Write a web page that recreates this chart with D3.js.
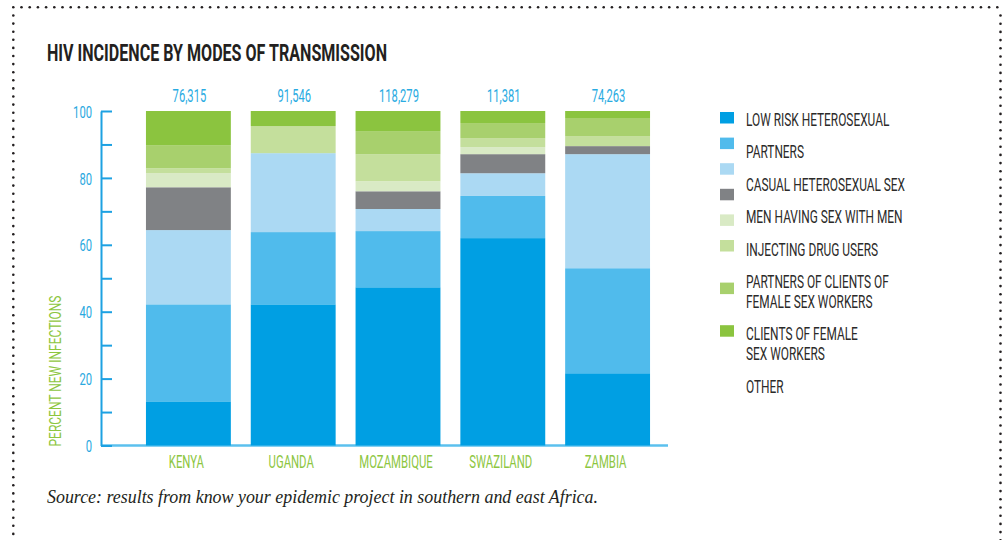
<!DOCTYPE html>
<html>
<head>
<meta charset="utf-8">
<script src="https://cdn.jsdelivr.net/npm/d3@7"></script>
<style>
  html, body { margin: 0; padding: 0; background: #fff; }
  svg { display: block; font-family: Roboto, "Open Sans", sans-serif; }
</style>
</head>
<body>
<div id="chart"></div>
<script>
"use strict";

// data (percent of new infections)
var countries = ["KENYA", "UGANDA", "MOZAMBIQUE", "SWAZILAND", "ZAMBIA"];
var totals = ["76,315", "91,546", "118,279", "11,381", "74,263"];

var lowRisk   = [13.2, 42.2, 47.3, 62.0, 21.6];
var partners  = [29.0, 21.6, 16.8, 12.6, 31.4];
var casual    = [22.2, 23.6,  6.6,  6.8, 34.1];
var msm       = [12.8,  0.0,  5.3,  5.7,  2.4];
var idu       = [ 4.2,  0.0,  3.0,  2.1,  0.0];
var pcfsw     = [ 1.5,  8.1,  8.1,  2.7,  3.0];
var cfsw      = [ 6.9,  0.0,  6.9,  4.5,  5.4];
var other     = [10.2,  4.5,  6.0,  3.6,  2.1];

var seriesKeys = ["lowRisk", "partners", "casual", "msm", "idu", "pcfsw", "cfsw", "other"];
var seriesVals = [lowRisk, partners, casual, msm, idu, pcfsw, cfsw, other];
var colors = ["#009fe3", "#50bbec", "#abd9f3", "#808285", "#d9eac5", "#c4df9c", "#a8d06d", "#8bc43f"];

var legendLabels = [
    ["LOW RISK HETEROSEXUAL"],
    ["PARTNERS"],
    ["CASUAL HETEROSEXUAL SEX"],
    ["MEN HAVING SEX WITH MEN"],
    ["INJECTING DRUG USERS"],
    ["PARTNERS OF CLIENTS OF", "FEMALE SEX WORKERS"],
    ["CLIENTS OF FEMALE", "SEX WORKERS"],
    ["OTHER"]
];

var yTicks = d3.range(0, 101, 10);

// build rows for d3.stack
var rows = countries.map(function(c, i) {
    var r = {country: c};
    seriesKeys.forEach(function(k, j) { r[k] = seriesVals[j][i]; });
    return r;
});

var W = 1002, H = 540;
var blue = "#1da1e2", green = "#8dc63f", ink = "#2b2a29";

var svg = d3.select("#chart").append("svg")
    .attr("width", W).attr("height", H);

// squeeze text horizontally to mimic the condensed face
function squeeze(sel, k) {
    sel.each(function() {
        var w = this.getComputedTextLength();
        d3.select(this).attr("textLength", w * k).attr("lengthAdjust", "spacingAndGlyphs");
    });
}

// dotted frame
var dots = svg.append("g").attr("fill", "#231f20");
dots.selectAll(".t").data(d3.range(13.3, 1001, 8.2)).enter().append("circle")
    .attr("cx", d => d).attr("cy", 7.3).attr("r", 1.3);
dots.selectAll(".l").data(d3.range(15.5, 541, 8.1)).enter().append("circle")
    .attr("cx", 13.3).attr("cy", d => d).attr("r", 1.3);
dots.selectAll(".r").data(d3.range(15.5, 541, 8.2)).enter().append("circle")
    .attr("cx", 1000.5).attr("cy", d => d).attr("r", 1.3);

// title
svg.append("text")
    .attr("x", 47).attr("y", 61)
    .attr("font-size", 24.5).attr("font-weight", 700).attr("fill", "#231f20")
    .attr("textLength", 340).attr("lengthAdjust", "spacingAndGlyphs")
    .text("HIV INCIDENCE BY MODES OF TRANSMISSION");

var x = d3.scaleBand().domain(countries).range([136, 660]).paddingInner(0.19).paddingOuter(0.095);
var y = d3.scaleLinear().domain([0, 100]).range([445.5, 111]);

// x baseline
svg.append("line")
    .attr("x1", 101).attr("x2", 668)
    .attr("y1", y(0)).attr("y2", y(0))
    .attr("stroke", "#5bc0ee").attr("stroke-width", 2.5);

// stacked bars
var stack = d3.stack().keys(seriesKeys)(rows);
svg.append("g").selectAll("g").data(stack).enter().append("g")
    .attr("fill", (d, i) => colors[i])
    .selectAll("rect").data(d => d).enter().append("rect")
    .attr("x", d => x(d.data.country))
    .attr("width", x.bandwidth())
    .attr("y", d => y(d[1]))
    .attr("height", d => y(d[0]) - y(d[1]));

// y axis
var axis = svg.append("g")
    .attr("transform", "translate(101,0)")
    .call(d3.axisLeft(y).tickValues(yTicks).tickSizeInner(-11).tickSizeOuter(0).tickPadding(9)
        .tickFormat(d => d % 20 === 0 ? d : ""));
axis.attr("font-family", null);
axis.select(".domain").attr("stroke", blue).attr("stroke-width", 2);
axis.selectAll(".tick line").attr("stroke", blue).attr("stroke-width", 2);
axis.selectAll(".tick text")
    .attr("fill", "#29a8e0").attr("font-size", 17).attr("dy", "0.36em")
    .call(squeeze, 0.66);

// y title
svg.append("text")
    .attr("transform", "translate(61,371) rotate(-90)")
    .attr("text-anchor", "middle").attr("fill", green).attr("font-size", 17)
    .attr("textLength", 151).attr("lengthAdjust", "spacingAndGlyphs")
    .text("PERCENT NEW INFECTIONS");

// totals above bars
svg.append("g").selectAll("text").data(countries).enter().append("text")
    .attr("x", d => x(d) + x.bandwidth() / 2 + 1)
    .attr("y", 101.5)
    .attr("text-anchor", "middle").attr("fill", "#29abe2").attr("font-size", 18)
    .text((d, i) => totals[i])
    .call(squeeze, 0.62);

// country labels
svg.append("g").selectAll("text").data(countries).enter().append("text")
    .attr("x", d => x(d) + x.bandwidth() / 2 - 2)
    .attr("y", 468)
    .attr("text-anchor", "middle").attr("fill", green).attr("font-size", 18)
    .text(d => d)
    .call(squeeze, 0.63);

// legend swatches
var leg = svg.append("g");
leg.selectAll("rect").data(colors).enter().append("rect")
    .attr("x", 720).attr("width", 14).attr("height", 11.5)
    .attr("y", (d, j) => 112 + 25.6 * j + 17 * Math.max(0, j - 5))
    .attr("fill", d => d);

// legend labels (extra lines of wrapped labels push the rest down)
var extra = 0;
legendLabels.forEach(function(lines, i) {
    lines.forEach(function(t, k) {
        leg.append("text")
            .attr("x", 746)
            .attr("y", 126 + 32.4 * i + 20 * (extra + k))
            .attr("fill", ink).attr("font-size", 18)
            .text(t)
            .call(squeeze, 0.66);
    });
    extra += lines.length - 1;
});

// source
svg.append("text")
    .attr("x", 47).attr("y", 503)
    .style("font-family", "'Liberation Serif', 'DejaVu Serif', serif")
    .attr("font-style", "italic").attr("font-size", 18.5).attr("fill", "#231f20")
    .attr("textLength", 551).attr("lengthAdjust", "spacingAndGlyphs")
    .text("Source: results from know your epidemic project in southern and east Africa.");
</script>
</body>
</html>
